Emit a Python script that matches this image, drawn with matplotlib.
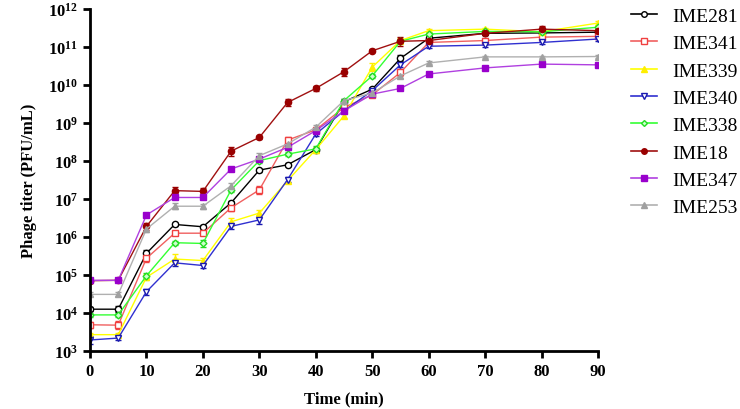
import numpy as np
import matplotlib
matplotlib.use("Agg")
import matplotlib.pyplot as plt
from matplotlib.ticker import FixedLocator, FuncFormatter, NullLocator
from matplotlib.lines import Line2D

plt.rcParams['font.family'] = ['Liberation Serif', 'DejaVu Serif']
plt.rcParams['mathtext.fontset'] = 'custom'
plt.rcParams['mathtext.rm'] = 'Liberation Serif:bold'
plt.rcParams['mathtext.bf'] = 'Liberation Serif:bold'

time_min = [0, 5, 10, 15, 20, 25, 30, 35, 40, 45, 50, 55, 60, 70, 80, 90]

# log10 titers
log_IME281 = [4.10, 4.10, 5.57, 6.33, 6.27, 6.90, 7.76, 7.90, 8.30, 9.56, 9.89, 10.70, 11.23, 11.36, 11.37, 11.39]
log_IME341 = [3.69, 3.68, 5.44, 6.10, 6.10, 6.77, 7.24, 8.55, 8.82, 9.41, 9.74, 10.33, 11.12, 11.17, 11.26, 11.28]
log_IME339 = [3.43, 3.43, 4.94, 5.42, 5.38, 6.40, 6.63, 7.48, 8.30, 9.19, 10.47, 11.17, 11.43, 11.47, 11.40, 11.63]
log_IME340 = [3.29, 3.34, 4.56, 5.32, 5.25, 6.28, 6.45, 7.51, 8.71, 9.32, 9.85, 10.53, 11.02, 11.05, 11.12, 11.21]
log_IME338 = [3.95, 3.95, 4.98, 5.85, 5.83, 7.24, 8.01, 8.18, 8.32, 9.59, 10.24, 11.15, 11.34, 11.41, 11.40, 11.52]
log_IME18 = [4.85, 4.86, 6.28, 7.22, 7.20, 8.26, 8.62, 9.54, 9.91, 10.35, 10.90, 11.15, 11.17, 11.36, 11.47, 11.43]
log_IME347 = [4.86, 4.86, 6.58, 7.04, 7.04, 7.79, 8.05, 8.36, 8.80, 9.32, 9.76, 9.91, 10.29, 10.45, 10.55, 10.53]
log_IME253 = [4.49, 4.49, 6.21, 6.81, 6.81, 7.35, 8.14, 8.45, 8.89, 9.59, 9.79, 10.24, 10.58, 10.74, 10.74, 10.75]

# error (log10 units)
err_IME281 = [0.05, 0.08, 0.08, 0.04, 0.04, 0.04, 0.04, 0.04, 0.05, 0.08, 0.04, 0.08, 0.08, 0.04, 0.04, 0.06]
err_IME341 = [0.08, 0.10, 0.10, 0.06, 0.06, 0.08, 0.10, 0.08, 0.06, 0.06, 0.06, 0.10, 0.08, 0.06, 0.08, 0.06]
err_IME339 = [0.05, 0.05, 0.08, 0.12, 0.06, 0.10, 0.08, 0.06, 0.08, 0.05, 0.10, 0.06, 0.05, 0.04, 0.04, 0.05]
err_IME340 = [0.10, 0.06, 0.08, 0.08, 0.06, 0.08, 0.10, 0.06, 0.05, 0.05, 0.05, 0.05, 0.05, 0.04, 0.04, 0.05]
err_IME338 = [0.05, 0.05, 0.06, 0.05, 0.08, 0.05, 0.05, 0.05, 0.08, 0.05, 0.05, 0.05, 0.05, 0.04, 0.04, 0.04]
err_IME18 = [0.05, 0.05, 0.10, 0.10, 0.10, 0.12, 0.05, 0.10, 0.06, 0.10, 0.04, 0.12, 0.06, 0.04, 0.08, 0.06]
err_IME347 = [0.04, 0.04, 0.04, 0.04, 0.04, 0.04, 0.04, 0.04, 0.04, 0.04, 0.04, 0.04, 0.04, 0.03, 0.04, 0.04]
err_IME253 = [0.05, 0.05, 0.08, 0.08, 0.06, 0.06, 0.08, 0.05, 0.05, 0.05, 0.04, 0.05, 0.04, 0.03, 0.03, 0.03]

names = ["IME281", "IME341", "IME339", "IME340", "IME338", "IME18", "IME347", "IME253"]
logs = [log_IME281, log_IME341, log_IME339, log_IME340, log_IME338, log_IME18, log_IME347, log_IME253]
errs = [err_IME281, err_IME341, err_IME339, err_IME340, err_IME338, err_IME18, err_IME347, err_IME253]

styles = [
    dict(color='black', line='black', marker='o', mfc='white', ms=4.5),
    dict(color='#F04040', line='#F06060', marker='s', mfc='white', ms=4.5),
    dict(color='#FFEE00', line='#FFFF00', marker='^', mfc='#FFEE00', ms=4.5),
    dict(color='#1A1AB0', line='#3030D0', marker='v', mfc='white', ms=4.5),
    dict(color='#22DD22', line='#33FF33', marker='D', mfc='#CCFFCC', ms=3.5),
    dict(color='#990000', line='#A01010', marker='o', mfc='#990000', ms=4.5),
    dict(color='#9900CC', line='#B040E0', marker='s', mfc='#9900CC', ms=4.5),
    dict(color='#A0A0A0', line='#B0B0B0', marker='^', mfc='#A0A0A0', ms=4.5),
]

fig = plt.figure(figsize=(7.4, 4.1), dpi=100)
ax = fig.add_axes([90/740, 1-352/410, (598-90)/740, (352-10)/410])

t = np.array(time_min)
handles = []
for name, lg, er, st in zip(names, logs, errs, styles):
    lg = np.array(lg); er = np.array(er)
    y = 10**lg
    lo = y - 10**(lg - er)
    hi = 10**(lg + er) - y
    ax.errorbar(t, y, yerr=[lo, hi], color=st['line'], ecolor=st['color'], elinewidth=1,
                capsize=2.5, capthick=1, lw=1, marker=st['marker'], ms=st['ms'],
                mfc=st['mfc'], mec=st['color'], mew=1)
    handles.append(Line2D([], [], color=st['line'], lw=1.2, marker=st['marker'],
                          ms=st['ms'] - 0.5, mfc=st['mfc'], mec=st['color'], mew=1, label=name))

ax.set_yscale('log')
ax.set_ylim(1e3, 1e12)
ax.set_xlim(0, 90)
ax.xaxis.set_major_locator(FixedLocator(range(0, 91, 10)))
ax.yaxis.set_major_locator(FixedLocator([10.0**k for k in range(3, 13)]))
ax.yaxis.set_minor_locator(NullLocator())
ax.yaxis.set_major_formatter(FuncFormatter(lambda v, p: r'$\mathbf{10^{%d}}$' % round(np.log10(v))))
ax.tick_params(axis='both', direction='out', length=5, width=2, labelsize=12)
for lab in ax.get_xticklabels():
    lab.set_fontweight('bold')
for s in ['top', 'right']:
    ax.spines[s].set_visible(False)
for s in ['left', 'bottom']:
    ax.spines[s].set_linewidth(2)

ax.set_xlabel('Time (min)', fontsize=12, fontweight='bold', labelpad=8)
ax.set_ylabel('Phage titer (PFU/mL)', fontsize=12, fontweight='bold', labelpad=8)

ax.legend(handles=handles, loc='upper left', bbox_to_anchor=(1.065, 1.005), frameon=False,
          fontsize=14, handlelength=1.35, labelspacing=0.5, handletextpad=0.75,
          borderaxespad=0, borderpad=0)

fig.savefig('out.png', dpi=100)
